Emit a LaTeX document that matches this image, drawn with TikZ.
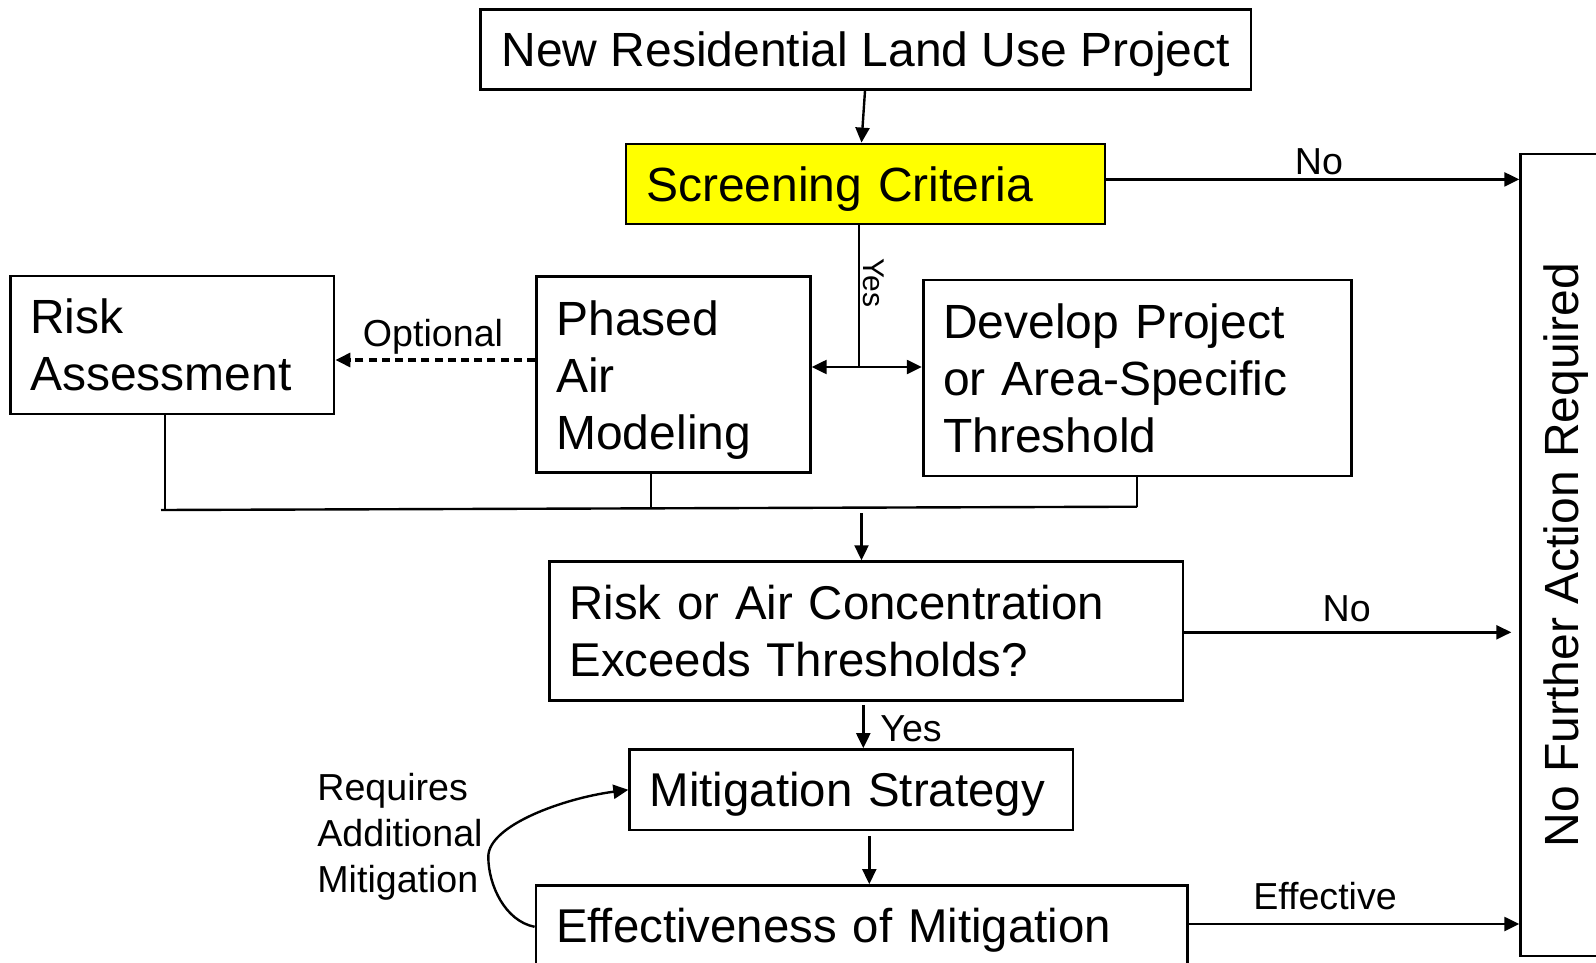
\documentclass[tikz,border=0pt]{standalone}
\usepackage{fontspec}
\setmainfont{Liberation Sans}
\usetikzlibrary{arrows.meta,calc}
\definecolor{yel}{RGB}{255,255,0}
\begin{document}
\begin{tikzpicture}[x=0.5pt,y=-0.5pt,
  box/.style={draw=black, line width=1.4pt, inner xsep=10pt, inner ysep=0pt, align=left,
              font=\fontsize{24}{28.5}\selectfont},
  oneline/.style={text depth=0pt},
  wire/.style={line width=1.2pt},
  conn/.style={line width=1.2pt, -{Triangle[length=7.5pt,width=7pt]}},
  lbl/.style={font=\fontsize{18.8}{23}\selectfont, inner sep=0pt},
]
\useasboundingbox (0,0) rectangle (1596,963);
\clip (0,0) rectangle (1596,963);

% boxes
\node[box, oneline, align=center, minimum width=385.25pt, minimum height=40pt] (new) at (865.8,49.3) {New Residential Land Use Project};
\node[box, oneline, fill=yel, text width=219.5pt, minimum height=40pt] (screen) at (865.5,184) {Screening Criteria};
\node[box, text width=141.9pt, minimum height=69pt] (ra) at (172.1,345) {Risk\\Assessment};
\node[box, text depth=57pt, text width=117pt, minimum height=98pt] (phased) at (673.3,374.8) {Phased\\Air\\Modeling};
\node[box, text width=194.3pt, minimum height=98pt] (develop) at (1137.5,378) {Develop Project\\or Area-Specific\\Threshold};
\node[box, text width=296.8pt, minimum height=69.25pt, font=\fontsize{23.7}{28.5}\selectfont] (riskair) at (866.2,630.9) {Risk or Air Concentration\\Exceeds Thresholds?};
\node[box, oneline, text width=201.6pt, minimum height=40.25pt, font=\fontsize{23.7}{28.5}\selectfont] (mitig) at (851.3,789.8) {Mitigation Strategy};
\node[box, oneline, text width=305.85pt, minimum height=40.3pt, font=\fontsize{23.7}{28.5}\selectfont] (effect) at (861.85,925.8) {Effectiveness of Mitigation};
\node[draw=black, line width=1.4pt, minimum width=60pt, minimum height=401pt, inner sep=0pt] (nfa) at (1580.7,555) {};
\node[rotate=90, inner sep=0pt, font=\fontsize{24}{28.5}\selectfont] (nfatext) at (1566,555) {No Further Action Required};

% new -> screening
\draw[conn] ([xshift=-0.4pt]new.south) -- ([xshift=-2pt]screen.north);

% screening -> no further action
\draw[conn] ($(screen.east)+(0,2.3pt)$) coordinate (s1) -- (s1 -| nfa.west);
\node[lbl, anchor=base] (no1) at (1319,175) {No};

% screening -> yes split
\coordinate (split) at (859,367);
\draw[wire] (screen.south -| split) -- (split);
\draw[conn] (split) -- (split -| phased.east);
\draw[conn] (split) -- (split -| develop.west);
\node[rotate=-90, inner sep=0pt, font=\fontsize{15}{18}\selectfont] (yes1) at (874,283) {Yes};

% optional dashed
\draw[conn, line width=1.6pt, dash pattern=on 4pt off 2.6pt] ($(phased.west)+(0,7.4pt)$) coordinate (o1) -- (o1 -| ra.east);
\node[lbl, anchor=base] (opt) at (433,346) {Optional};

% merge lines
\coordinate (mL) at (165,510);
\coordinate (mM) at (651,508.3);
\coordinate (mR) at (1137,506.7);
\draw[wire] (ra.south -| mL) -- (mL);
\draw[wire] (phased.south -| mM) -- (mM);
\draw[wire] (develop.south -| mR) -- (mR);
\draw[wire] ([xshift=-2pt]mL) -- (mR);
\coordinate (mD) at (861.5,513.3);
\draw[conn] (mD) -- (mD |- riskair.north);

% riskair -> nfa
\coordinate (r1) at (1183,632.3);
\draw[conn] (riskair.east |- r1) -- ($(r1 -| nfa.west)+(-4pt,0)$);
\node[lbl, anchor=base] (no2) at (1346.7,621.7) {No};

% riskair -> mitigation
\draw[conn] ($(riskair.south)+(-1.45pt,-1.6pt)$) coordinate (a1) -- (a1 |- mitig.north);
\node[lbl, anchor=base west] (yes2) at (880,741.7) {Yes};

% mitigation -> effectiveness
\draw[conn] ($(mitig.south)+(9pt,-2.5pt)$) coordinate (a2) -- (a2 |- effect.north);

% effectiveness -> nfa
\draw[conn] ($(effect.east)+(0,0.9pt)$) coordinate (a3) -- (a3 -| nfa.west);
\node[lbl, anchor=base] (eff) at (1325,909) {Effective};

% loop back
\draw[conn] ($(effect.west)+(0,-0.5pt)$) .. controls (505,921) and (488.3,885) .. (488.3,856.7)
   .. controls (488.3,825) and (565,798) .. (mitig.west);
\node[lbl, anchor=north west, align=left] (req) at (317,773) {Requires\\Additional\\Mitigation};
\end{tikzpicture}
\end{document}
